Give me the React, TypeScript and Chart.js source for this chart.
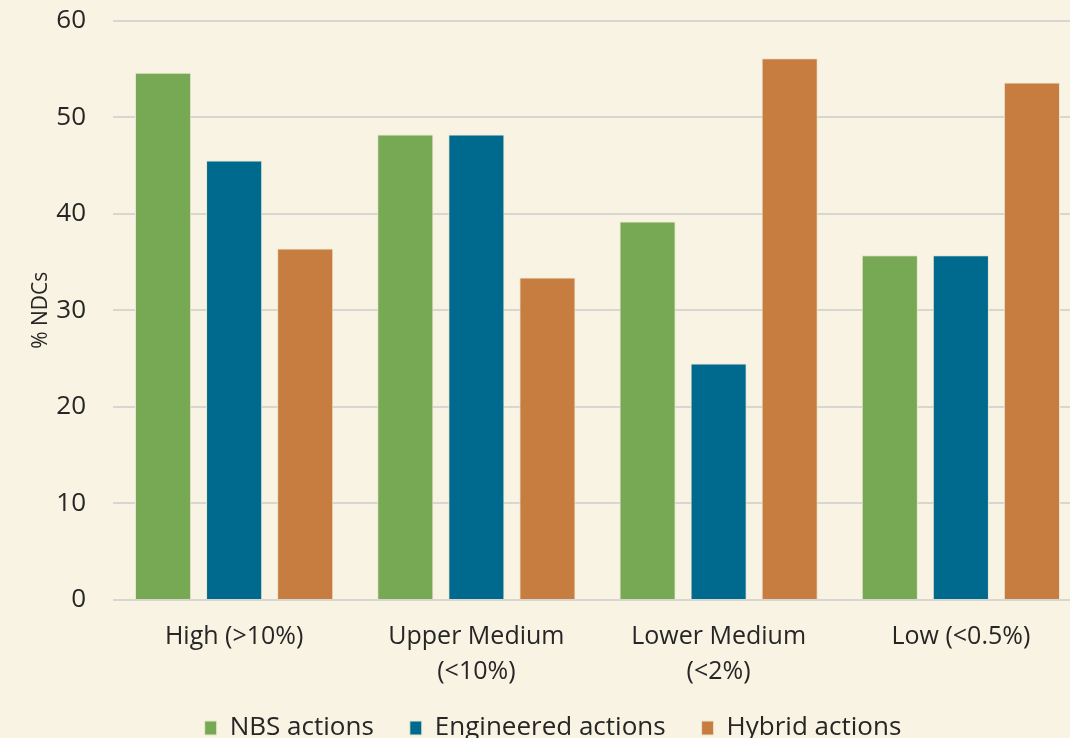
import React, { useEffect, useRef } from "react";
import { Chart, registerables } from "chart.js";

Chart.register(...registerables);

const categories: (string | string[])[] = [
  "High (>10%)",
  ["Upper Medium", "(<10%)"],
  ["Lower Medium", "(<2%)"],
  "Low (<0.5%)",
];
const nbsValues = [54.6, 48.2, 39.2, 35.7];
const engineeredValues = [45.5, 48.2, 24.5, 35.7];
const hybridValues = [36.4, 33.4, 56.1, 53.6];
const yTicks = [0, 10, 20, 30, 40, 50, 60];

const BG = "#f9f3e3";
const FONT = "'Open Sans', 'DejaVu Sans', sans-serif";
const TEXT = "#262626";

const bgPlugin = {
  id: "bg",
  beforeDraw(chart: any) {
    const { ctx, width, height } = chart;
    ctx.save();
    ctx.fillStyle = BG;
    ctx.fillRect(0, 0, width, height);
    ctx.restore();
  },
};

export default function App() {
  const ref = useRef<HTMLCanvasElement | null>(null);

  useEffect(() => {
    document.body.style.margin = "0";
    document.body.style.background = BG;
    if (!ref.current) return;
    const border = "#e9e5d0";
    const chart = new Chart(ref.current, {
      type: "bar",
      data: {
        labels: categories,
        datasets: [
          { label: "NBS actions", data: nbsValues, backgroundColor: "#77a853", borderColor: border, borderWidth: 1 },
          { label: "Engineered actions", data: engineeredValues, backgroundColor: "#006a8e", borderColor: border, borderWidth: 1 },
          { label: "Hybrid actions", data: hybridValues, backgroundColor: "#c77d3f", borderColor: border, borderWidth: 1 },
        ],
      },
      options: {
        responsive: false,
        animation: false,
        datasets: {
          bar: { categoryPercentage: 0.88, barPercentage: 0.79 },
        },
        layout: { padding: { left: 24, right: 8, top: 2, bottom: 0 } },
        plugins: {
          legend: {
            position: "bottom",
            labels: {
              font: { family: FONT, size: 26 },
              color: TEXT,
              boxWidth: 12,
              boxHeight: 14,
              padding: 36,
            },
          },
          tooltip: { enabled: false },
        },
        scales: {
          x: {
            grid: { display: false },
            border: { display: false },
            ticks: {
              font: { family: FONT, size: 25, lineHeight: 1.38 },
              color: TEXT,
              padding: 12,
              maxRotation: 0,
              autoSkip: false,
            },
            afterFit: (scale: any) => {
              scale.height -= 22;
              scale._computeLabelArea = () => undefined;
            },
          },
          y: {
            min: 0,
            max: 60,
            afterBuildTicks: (scale: any) => {
              scale.ticks = yTicks.map((v) => ({ value: v }));
            },
            afterFit: (scale: any) => {
              scale.width = 89;
            },
            grid: { color: "#d8d6d0", lineWidth: 2, drawTicks: false },
            border: { display: false },
            ticks: {
              font: { family: FONT, size: 26 },
              color: TEXT,
              padding: 27,
            },
            title: {
              display: true,
              text: "% NDCs",
              font: { family: FONT, size: 21 },
              color: TEXT,
            },
          },
        },
      },
      plugins: [bgPlugin],
    });
    return () => chart.destroy();
  }, []);

  return (
    <div style={{ position: "absolute", left: 0, top: 0, width: 1070, height: 738, overflow: "hidden", background: BG }}>
      <canvas
        ref={ref}
        width={1090}
        height={773}
        style={{ width: 1090, height: 773, display: "block", position: "absolute", left: 0, top: -22 }}
      />
    </div>
  );
}
